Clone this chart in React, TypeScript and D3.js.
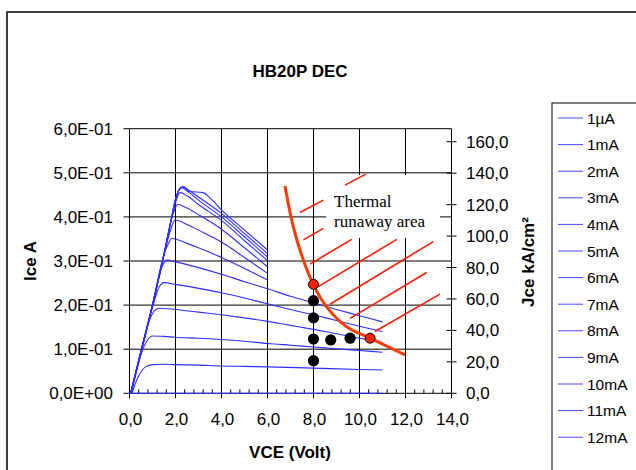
import * as d3 from "d3";

const width = 636;
const height = 470;

// Ice (A) versus VCE (V), one curve per base current
const seriesNames = ["1µA", "1mA", "2mA", "3mA", "4mA", "5mA", "6mA", "7mA", "8mA", "9mA", "10mA", "11mA", "12mA"];

const c1uA = [[0, 0], [11, 0]];
const c1mA = [[0.1, 0], [0.4, 0.04], [0.7, 0.06], [1.0, 0.065], [1.5, 0.066], [2, 0.065], [3, 0.064], [4, 0.062], [5, 0.061], [6, 0.06], [8, 0.057], [10, 0.054], [11, 0.053]];
const c2mA = [[0.08, 0], [0.45, 0.08], [0.75, 0.118], [1.0, 0.13], [1.5, 0.129], [2, 0.127], [3, 0.125], [4, 0.122], [5, 0.118], [6, 0.113], [7, 0.109], [8, 0.105], [9, 0.101], [10, 0.097], [11, 0.093]];
const c3mA = [[0.06, 0], [0.5, 0.09], [0.9, 0.17], [1.1, 0.188], [1.3, 0.193], [2, 0.19], [3, 0.184], [4, 0.178], [5, 0.171], [6, 0.163], [7, 0.154], [8, 0.145], [9, 0.135], [10, 0.125], [11, 0.115]];
const c4mA = [[0.05, 0], [0.5, 0.093], [1.0, 0.195], [1.3, 0.242], [1.5, 0.251], [2, 0.247], [3, 0.238], [4, 0.228], [5, 0.216], [6, 0.203], [7, 0.19], [8, 0.178], [9, 0.165], [10, 0.152], [11, 0.14]];
const c5mA = [[0.05, 0], [0.5, 0.095], [1.0, 0.2], [1.4, 0.285], [1.62, 0.302], [2, 0.298], [3, 0.285], [4, 0.27], [5, 0.253], [6, 0.237], [7, 0.22], [8, 0.205], [9, 0.19], [10, 0.176], [11, 0.162]];
const c6mA = [[0.05, 0], [0.5, 0.095], [1.0, 0.2], [1.5, 0.315], [1.7, 0.34], [1.83, 0.351], [2.5, 0.34], [3, 0.33], [4, 0.308], [5, 0.283], [6, 0.257]];
const c7mA = [[0.05, 0], [0.5, 0.095], [1.0, 0.2], [1.5, 0.315], [1.85, 0.38], [1.98, 0.393], [2.5, 0.383], [3, 0.37], [4, 0.343], [5, 0.308], [6, 0.272]];
const c8mA = [[0.05, 0], [0.5, 0.095], [1.0, 0.2], [1.5, 0.315], [1.8, 0.39], [1.95, 0.415], [2.1, 0.428], [2.5, 0.42], [3, 0.405], [4, 0.372], [5, 0.33], [6, 0.287]];
const c9mA = [[0.05, 0], [0.5, 0.095], [1.0, 0.2], [1.5, 0.315], [1.8, 0.39], [2.05, 0.44], [2.2, 0.455], [2.5, 0.448], [3, 0.428], [4, 0.392], [5, 0.346], [6, 0.301]];
const c10mA = [[0.05, 0], [0.5, 0.095], [1.0, 0.2], [1.5, 0.315], [1.8, 0.39], [2.0, 0.44], [2.15, 0.46], [2.25, 0.466], [2.6, 0.455], [3, 0.438], [4, 0.4], [5, 0.355], [6, 0.309]];
const c11mA = [[0.05, 0], [0.5, 0.095], [1.0, 0.2], [1.5, 0.315], [1.8, 0.39], [2.0, 0.44], [2.2, 0.465], [2.3, 0.468], [2.6, 0.46], [3, 0.445], [4, 0.408], [5, 0.362], [6, 0.317]];
const c12mA = [[0.05, 0], [0.5, 0.095], [1.0, 0.2], [1.5, 0.315], [1.8, 0.39], [2.0, 0.44], [2.2, 0.465], [2.35, 0.468], [2.6, 0.458], [3.2, 0.455], [3.6, 0.438], [4, 0.416], [5, 0.37], [6, 0.325]];
const curves = [c1uA, c1mA, c2mA, c3mA, c4mA, c5mA, c6mA, c7mA, c8mA, c9mA, c10mA, c11mA, c12mA];

// thermal runaway boundary and measured points
const runawayCurve = [[6.76, 0.47], [7.12, 0.378], [7.56, 0.302], [7.99, 0.247], [8.57, 0.196], [9.44, 0.151], [10.46, 0.125], [11.98, 0.087]];
const blackDots = [[8, 0.074], [8, 0.123], [8, 0.171], [8, 0.21], [8.75, 0.121], [9.59, 0.125]];
const redDots = [[8, 0.247], [10.46, 0.125]];
const hatchLines = [
  [[7.41, 0.41], [8.43, 0.438]],
  [[9.37, 0.472], [10.28, 0.497]],
  [[7.56, 0.348], [8.43, 0.374]],
  [[7.85, 0.293], [9.66, 0.349]],
  [[8.21, 0.242], [11.62, 0.349]],
  [[8.72, 0.202], [13.21, 0.344]],
  [[9.59, 0.17], [12.92, 0.274]],
  [[10.67, 0.14], [13.5, 0.225]],
];

const xTicks = [0, 2, 4, 6, 8, 10, 12, 14];
const yTicks = [0, 0.1, 0.2, 0.3, 0.4, 0.5, 0.6];
const yTickLabels = ["0,0E+00", "1,0E-01", "2,0E-01", "3,0E-01", "4,0E-01", "5,0E-01", "6,0E-01"];
const jTicks = [0, 20, 40, 60, 80, 100, 120, 140, 160];
const jMax = 168.3;

const plot = { left: 129.5, right: 451.5, top: 128.7, bottom: 393.3 };
const blue = "#2d2dff";
const font = "Arial, 'Liberation Sans', sans-serif";

export default function App() {
  const x = d3.scaleLinear().domain([0, 14]).range([plot.left, plot.right]);
  const y = d3.scaleLinear().domain([0, 0.6]).range([plot.bottom, plot.top]);
  const yJ = d3.scaleLinear().domain([0, jMax]).range([plot.bottom, plot.top]);
  const line = d3.line<number[]>().x((d) => x(d[0])).y((d) => y(d[1])).curve(d3.curveMonotoneX);
  const redLine = d3.line<number[]>().x((d) => x(d[0])).y((d) => y(d[1])).curve(d3.curveCatmullRom);
  const minor = d3.range(0, 14.01, 0.4);

  return (
    <svg width={width} height={height} style={{ position: "absolute", left: 0, top: 0, background: "#fff" }} fontFamily={font}>
      <rect x={7} y={12} width={700} height={600} fill="#fff" stroke="#000" strokeWidth={1.5} />
      <text x={300} y={77} textAnchor="middle" fontSize={17} fontWeight="bold">HB20P DEC</text>

      {/* grid */}
      {yTicks.slice(1).map((t) => (
        <line key={"gy" + t} x1={plot.left} x2={plot.right} y1={y(t)} y2={y(t)} stroke="#000" strokeWidth={1} />
      ))}
      {xTicks.slice(1, -1).map((t) => (
        <line key={"gx" + t} x1={x(t)} x2={x(t)} y1={plot.top} y2={plot.bottom} stroke="#000" strokeWidth={1} />
      ))}

      {/* text box over the hatch area */}
      <rect x={326} y={175} width={114} height={63} fill="#fff" />

      {/* axes */}
      <line x1={plot.left} x2={plot.left} y1={plot.top} y2={plot.bottom} stroke="#000" />
      <line x1={plot.right} x2={plot.right} y1={plot.top} y2={plot.bottom} stroke="#000" />
      <line x1={plot.left} x2={plot.right} y1={plot.bottom} y2={plot.bottom} stroke="#000" />
      {yTicks.map((t, i) => (
        <g key={"yt" + t}>
          <line x1={plot.left - 6} x2={plot.left} y1={y(t)} y2={y(t)} stroke="#000" />
          <text x={113} y={y(t) + 6} textAnchor="end" fontSize={17}>{yTickLabels[i]}</text>
        </g>
      ))}
      {minor.map((t) => (
        <line key={"mx" + t} x1={x(t)} x2={x(t)} y1={plot.bottom - 4} y2={plot.bottom} stroke="#000" />
      ))}
      {xTicks.map((t) => (
        <g key={"xt" + t}>
          <line x1={x(t)} x2={x(t)} y1={plot.bottom - 5} y2={plot.bottom + 5} stroke="#000" />
          <text x={x(t) + 1} y={425} textAnchor="middle" fontSize={17}>{t.toFixed(1).replace(".", ",")}</text>
        </g>
      ))}
      {jTicks.map((t) => (
        <g key={"jt" + t}>
          <line x1={plot.right - 5} x2={plot.right + 5} y1={yJ(t)} y2={yJ(t)} stroke="#000" />
          <text x={466} y={yJ(t) + 6} fontSize={17}>{t.toFixed(1).replace(".", ",")}</text>
        </g>
      ))}

      {/* curves */}
      {curves.map((c, i) => (
        <path key={"c" + i} d={line(c) || ""} fill="none" stroke={blue} strokeWidth={1.1} />
      ))}

      {/* runaway area */}
      {hatchLines.map((h, i) => (
        <line key={"h" + i} x1={x(h[0][0])} y1={y(h[0][1])} x2={x(h[1][0])} y2={y(h[1][1])} stroke="#ff1a00" strokeWidth={1.6} />
      ))}
      <path d={redLine(runawayCurve) || ""} fill="none" stroke="#ff3c00" strokeWidth={3} />
      {blackDots.map((d, i) => (
        <circle key={"b" + i} cx={x(d[0])} cy={y(d[1])} r={5.6} fill="#000" />
      ))}
      {redDots.map((d, i) => (
        <circle key={"r" + i} cx={x(d[0])} cy={y(d[1])} r={5} fill="#ff2000" stroke="#000" strokeWidth={1} />
      ))}
      <text fontFamily="'Liberation Serif', 'Times New Roman', serif" fontSize={17}>
        <tspan x={334} y={207}>Thermal</tspan>
        <tspan x={334} y={227}>runaway area</tspan>
      </text>

      {/* axis titles */}
      <text x={290} y={458} textAnchor="middle" fontSize={17} fontWeight="bold">VCE (Volt)</text>
      <text transform="translate(36,261) rotate(-90)" textAnchor="middle" fontSize={17} fontWeight="bold">Ice A</text>
      <text transform="translate(534,262) rotate(-90)" textAnchor="middle" fontSize={17} fontWeight="bold">Jce kA/cm²</text>

      {/* legend */}
      <rect x={552} y={103} width={120} height={400} fill="#fff" stroke="#000" strokeWidth={1} />
      {seriesNames.map((n, i) => (
        <g key={"l" + n} transform={`translate(0,${118 + i * 26.6})`}>
          <line x1={558} x2={583} y1={0} y2={0} stroke="#4646ff" strokeWidth={1} />
          <text x={587} y={5.5} fontSize={15.5}>{n}</text>
        </g>
      ))}
    </svg>
  );
}
